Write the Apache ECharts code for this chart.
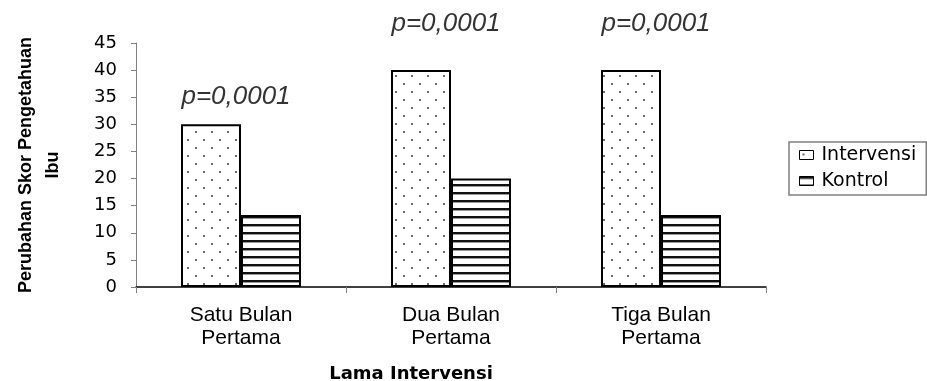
<!DOCTYPE html>
<html>
<head>
<meta charset="utf-8">
<script src="https://cdn.jsdelivr.net/npm/echarts@6/dist/echarts.min.js"></script>
<style>
  html, body { margin: 0; padding: 0; background: #fff; }
  #chart { width: 927px; height: 381px; }
</style>
</head>
<body>
<div id="chart"></div>
<script>
// Change in mothers' knowledge score by length of intervention
const categories = ['Satu Bulan\nPertama', 'Dua Bulan\nPertama', 'Tiga Bulan\nPertama'];
const intervensi = [30, 40, 40];
const kontrol = [13.3, 20, 13.3];
const pTexts = ['p=0,0001', 'p=0,0001', 'p=0,0001'];
const pLevels = [35, 48.5, 48.5];   // height (score units) of each p-value note
const yTicks = [0, 5, 10, 15, 20, 25, 30, 35, 40, 45];

// Fill patterns: dotted for the intervention group, horizontal hatching for control
function dotPattern() {
  const c = document.createElement('canvas');
  c.width = 16; c.height = 16;
  const g = c.getContext('2d');
  g.fillStyle = '#fff'; g.fillRect(0, 0, 16, 16);
  g.fillStyle = '#666';
  g.fillRect(3, 3, 2, 2);
  g.fillRect(11, 11, 2, 2);
  return c;
}
function stripePattern() {
  const c = document.createElement('canvas');
  c.width = 8; c.height = 8;
  const g = c.getContext('2d');
  g.fillStyle = '#fff'; g.fillRect(0, 0, 8, 8);
  g.fillStyle = '#111'; g.fillRect(0, 0, 8, 2);
  g.fillStyle = '#999'; g.fillRect(0, 2, 8, 1);
  return c;
}

const chart = echarts.init(document.getElementById('chart'));
chart.setOption({
  backgroundColor: '#fff',
  animation: false,
  grid: { left: 136, right: 161, top: 43, bottom: 94, containLabel: false, outerBoundsMode: 'none' },
  legend: {
    data: ['Intervensi', 'Kontrol'],
    orient: 'vertical',
    left: 789, top: 142,
    padding: [3, 10, 4, 10],
    itemGap: 6,
    itemWidth: 14, itemHeight: 9,
    icon: 'rect',
    borderColor: '#808080', borderWidth: 1.5,
    itemStyle: { borderColor: '#000', borderWidth: 1 },
    textStyle: { fontFamily: 'DejaVu Sans', fontSize: 19, color: '#000', lineHeight: 20, padding: [0, 0, 0, 3] }
  },
  xAxis: {
    type: 'category',
    data: categories,
    name: 'Lama Intervensi',
    nameLocation: 'middle',
    nameGap: 78,
    nameTextStyle: { fontFamily: 'DejaVu Sans', fontWeight: 'bold', fontSize: 18, color: '#000', padding: [0, 80, 0, 0] },
    axisLine: { lineStyle: { color: '#000', width: 1.5 } },
    axisTick: { show: true, length: 6, lineStyle: { color: '#808080' } },
    axisLabel: { fontFamily: 'Liberation Sans', fontSize: 21, color: '#000', lineHeight: 23, margin: 17 }
  },
  yAxis: {
    type: 'value',
    min: 0, max: 45, interval: 5,
    name: 'Perubahan Skor Pengetahuan\nIbu',
    nameLocation: 'middle',
    nameRotate: 90,
    nameGap: 69,
    nameTextStyle: { fontFamily: 'Liberation Sans', fontWeight: 'bold', fontSize: 18, color: '#000', lineHeight: 27 },
    splitLine: { show: false },
    axisLine: { show: true, lineStyle: { color: '#808080', width: 1 } },
    axisTick: { show: true, length: 5, lineStyle: { color: '#808080' } },
    axisLabel: {
      fontFamily: 'DejaVu Sans', fontSize: 18, color: '#000', margin: 19,
      formatter: v => (yTicks.indexOf(v) >= 0 ? String(v) : '')
    }
  },
  series: [
    {
      name: 'Intervensi', type: 'bar', data: intervensi,
      barWidth: 60, barGap: '0%',
      itemStyle: { color: { image: dotPattern(), repeat: 'repeat' }, borderColor: '#000', borderWidth: 2 }
    },
    {
      name: 'Kontrol', type: 'bar', data: kontrol,
      barWidth: 60, barGap: '0%',
      itemStyle: { color: { image: stripePattern(), repeat: 'repeat' }, borderColor: '#000', borderWidth: 2 }
    },
    {
      name: 'p', type: 'scatter', data: pLevels,
      symbolSize: 0, clip: false, silent: true,
      label: {
        show: true, position: 'inside', offset: [-5, 0],
        formatter: p => pTexts[p.dataIndex],
        fontFamily: 'Liberation Sans', fontStyle: 'italic', fontSize: 26, color: '#000'
      }
    }
  ]
});
</script>
</body>
</html>
